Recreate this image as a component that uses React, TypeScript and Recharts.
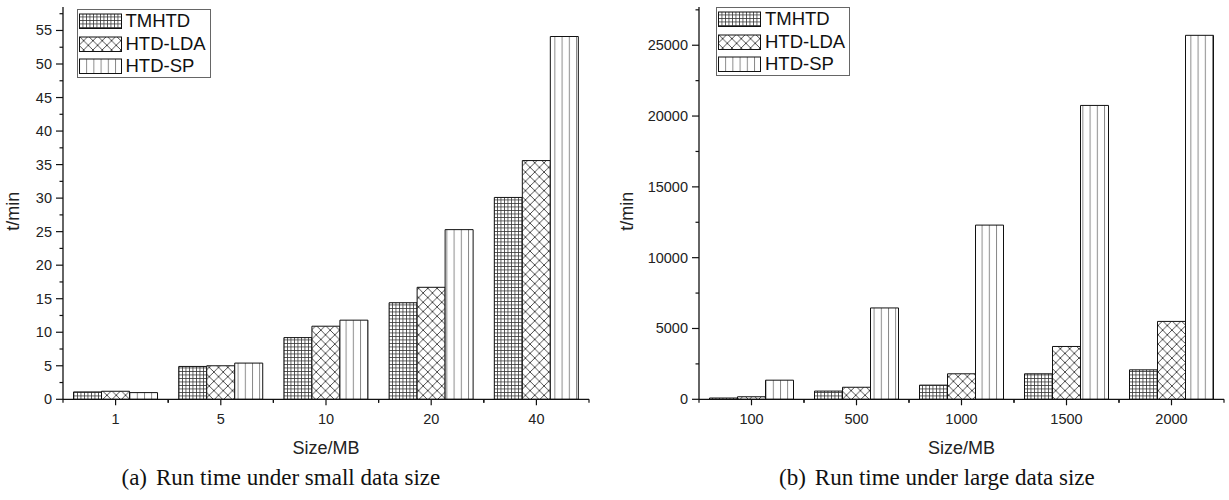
import React from 'react';
import { BarChart, Bar, XAxis, YAxis, Legend } from 'recharts';

// series names
const methods = ['TMHTD', 'HTD-LDA', 'HTD-SP'];
const patternKinds = ['grid', 'cross', 'vert'];

// (a) small data size, minutes
const smallSizes = ['1', '5', '10', '20', '40'];
const smallTMHTD = [1.1, 4.9, 9.2, 14.4, 30.1];
const smallLDA = [1.2, 5.0, 10.9, 16.7, 35.6];
const smallSP = [1.0, 5.4, 11.8, 25.3, 54.1];
const smallTicks = [0, 2.5, 5, 7.5, 10, 12.5, 15, 17.5, 20, 22.5, 25, 27.5, 30, 32.5, 35, 37.5, 40, 42.5, 45, 47.5, 50, 52.5, 55, 57.5];

// (b) large data size, minutes
const largeSizes = ['100', '500', '1000', '1500', '2000'];
const largeTMHTD = [90, 580, 1000, 1800, 2080];
const largeLDA = [180, 850, 1800, 3730, 5500];
const largeSP = [1350, 6450, 12300, 20750, 25700];
const largeTicks = [0, 2500, 5000, 7500, 10000, 12500, 15000, 17500, 20000, 22500, 25000, 27500];

const smallData = smallSizes.map((s, i) => ({ size: s, a: smallTMHTD[i], b: smallLDA[i], c: smallSP[i] }));
const largeData = largeSizes.map((s, i) => ({ size: s, a: largeTMHTD[i], b: largeLDA[i], c: largeSP[i] }));

const SANS = '"Liberation Sans", Arial, sans-serif';
const SERIF = '"Liberation Serif", "Times New Roman", serif';
const INK = '#111';
const TICK_FONT = 14.5;

function Patterns({ id }: { id: string }) {
  return (
    <defs>
      <pattern id={`${id}-grid`} width={3.5} height={3.5} patternUnits="userSpaceOnUse">
        <rect width={3.5} height={3.5} fill="#fff" />
        <path d="M0 0.4 H3.5 M0.4 0 V3.5" stroke="#333" strokeWidth={0.8} />
      </pattern>
      <pattern id={`${id}-cross`} width={9.3} height={9.3} patternUnits="userSpaceOnUse">
        <rect width={9.3} height={9.3} fill="#fff" />
        <path d="M-1 -1 L10.3 10.3 M10.3 -1 L-1 10.3" stroke="#222" strokeWidth={0.8} />
      </pattern>
      <pattern id={`${id}-vert`} width={7.2} height={4} patternUnits="userSpaceOnUse">
        <rect width={7.2} height={4} fill="#fff" />
        <path d="M0.5 0 V4" stroke="#777" strokeWidth={0.9} />
      </pattern>
    </defs>
  );
}

const makeYTick = (majorStep: number) => (props: any) => {
  const { x, y, payload } = props;
  const axisX = x + 11;
  const isMajor = payload.value % majorStep === 0;
  return (
    <g>
      <line x1={axisX - (isMajor ? 7 : 3.5)} x2={axisX} y1={y} y2={y} stroke={INK} strokeWidth={1.2} />
      {isMajor && (
        <text x={x} y={y + 5} textAnchor="end" fontSize={TICK_FONT} fontFamily={SANS} fill="#222">
          {payload.value}
        </text>
      )}
    </g>
  );
};

const makeXTick = (band: number) => (props: any) => {
  const { x, y, payload } = props;
  const axisY = y - 14;
  const half = payload.offset ?? band / 2;
  return (
    <g>
      <line x1={x} x2={x} y1={axisY} y2={axisY + 6} stroke={INK} strokeWidth={1.2} />
      <line x1={x - half} x2={x - half} y1={axisY} y2={axisY + 3.5} stroke={INK} strokeWidth={1.2} />
      <line x1={x + half} x2={x + half} y1={axisY} y2={axisY + 3.5} stroke={INK} strokeWidth={1.2} />
      <text x={x} y={y + 11} textAnchor="middle" fontSize={TICK_FONT} fontFamily={SANS} fill="#222">
        {payload.value}
      </text>
    </g>
  );
};

// distance from the y axis line to the title's baseline
const makeYTitle = (dist: number) => (props: any) => {
  const vb = props.viewBox;
  const cx = vb.x + vb.width - dist;
  const cy = vb.y + vb.height / 2 + 8;
  return (
    <text x={cx} y={cy} transform={`rotate(-90 ${cx} ${cy})`} textAnchor="middle" fontSize={18} fontFamily={SANS} fill="#222">
      t/min
    </text>
  );
};

const xTitle = (props: any) => {
  const vb = props.viewBox;
  return (
    <text x={vb.x + vb.width / 2} y={vb.y + 54.7} textAnchor="middle" fontSize={18} fontFamily={SANS} fill="#222">
      Size/MB
    </text>
  );
};

const makeLegend = (id: string) => () => (
  <div
    style={{
      width: 134,
      height: 69,
      boxSizing: 'border-box',
      border: '1px solid #666',
      background: '#fff',
      fontFamily: SANS,
      fontSize: 18.5,
      color: '#111',
    }}
  >
    {methods.map((m, i) => (
      <div key={m} style={{ display: 'flex', alignItems: 'center', height: 22.5 }}>
        <svg width={43} height={16} style={{ marginLeft: 1, display: 'block' }}>
          <rect x={0.5} y={1} width={42} height={14.5} fill={`url(#${id}-${patternKinds[i]})`} stroke={INK} strokeWidth={1} />
        </svg>
        <span style={{ marginLeft: 4, lineHeight: '22px' }}>{m}</span>
      </div>
    ))}
  </div>
);

interface PanelProps {
  id: string;
  data: any[];
  ticks: number[];
  majorStep: number;
  top: number;
  width: number;
  leftMargin: number;
  rightMargin: number;
  titleDist: number;
  legendPos: { left: number; top: number };
}

function Panel({ id, data, ticks, majorStep, top, width, leftMargin, rightMargin, titleDist, legendPos }: PanelProps) {
  const plotW = width - leftMargin - 50 - rightMargin;
  return (
    <BarChart
      width={width}
      height={500}
      data={data}
      margin={{ top: 7, right: rightMargin, bottom: 40.7, left: leftMargin }}
      barGap={0}
      barCategoryGap="10%"
    >
      <Patterns id={id} />
      <XAxis
        dataKey="size"
        height={60}
        tickLine={false}
        tickSize={6}
        tickMargin={8}
        interval={0}
        axisLine={{ stroke: INK, strokeWidth: 1.3 }}
        tick={makeXTick(plotW / data.length)}
        label={xTitle}
      />
      <YAxis
        width={50}
        domain={[0, top]}
        ticks={ticks}
        interval={0}
        tickLine={false}
        tickSize={7}
        tickMargin={4}
        axisLine={{ stroke: INK, strokeWidth: 1.3 }}
        tick={makeYTick(majorStep)}
        label={makeYTitle(titleDist)}
      />
      <Legend
        layout="vertical"
        align="center"
        verticalAlign="middle"
        wrapperStyle={{ left: legendPos.left, top: legendPos.top, width: 'auto' }}
        content={makeLegend(id)}
      />
      <Bar dataKey="a" name={methods[0]} fill={`url(#${id}-grid)`} stroke={INK} strokeWidth={1} isAnimationActive={false} />
      <Bar dataKey="b" name={methods[1]} fill={`url(#${id}-cross)`} stroke={INK} strokeWidth={1} isAnimationActive={false} />
      <Bar dataKey="c" name={methods[2]} fill={`url(#${id}-vert)`} stroke={INK} strokeWidth={1} isAnimationActive={false} />
    </BarChart>
  );
}

const captionStyle: React.CSSProperties = {
  position: 'absolute',
  top: 466,
  fontFamily: SERIF,
  fontSize: 23,
  lineHeight: '23px',
  color: '#111',
  whiteSpace: 'pre',
};

export default function App() {
  return (
    <div style={{ position: 'absolute', left: 0, top: 0, width: 1229, height: 500, background: '#fff', overflow: 'hidden' }}>
      <div style={{ position: 'absolute', left: 0, top: 0 }}>
        <Panel
          id="pa"
          data={smallData}
          ticks={smallTicks}
          majorStep={5}
          top={58.5}
          width={600}
          leftMargin={13}
          rightMargin={11}
          titleDist={44}
          legendPos={{ left: 76.5, top: 9 }}
        />
      </div>
      <div style={{ position: 'absolute', left: 600, top: 0 }}>
        <Panel
          id="pb"
          data={largeData}
          ticks={largeTicks}
          majorStep={5000}
          top={27700}
          width={629}
          leftMargin={49}
          rightMargin={5}
          titleDist={66}
          legendPos={{ left: 116, top: 7 }}
        />
      </div>
      <div style={{ ...captionStyle, left: 121.5 }}>
        (a)<span style={{ marginLeft: 9 }}>Run time under small data size</span>
      </div>
      <div style={{ ...captionStyle, left: 779 }}>
        (b)<span style={{ marginLeft: 9 }}>Run time under large data size</span>
      </div>
    </div>
  );
}
